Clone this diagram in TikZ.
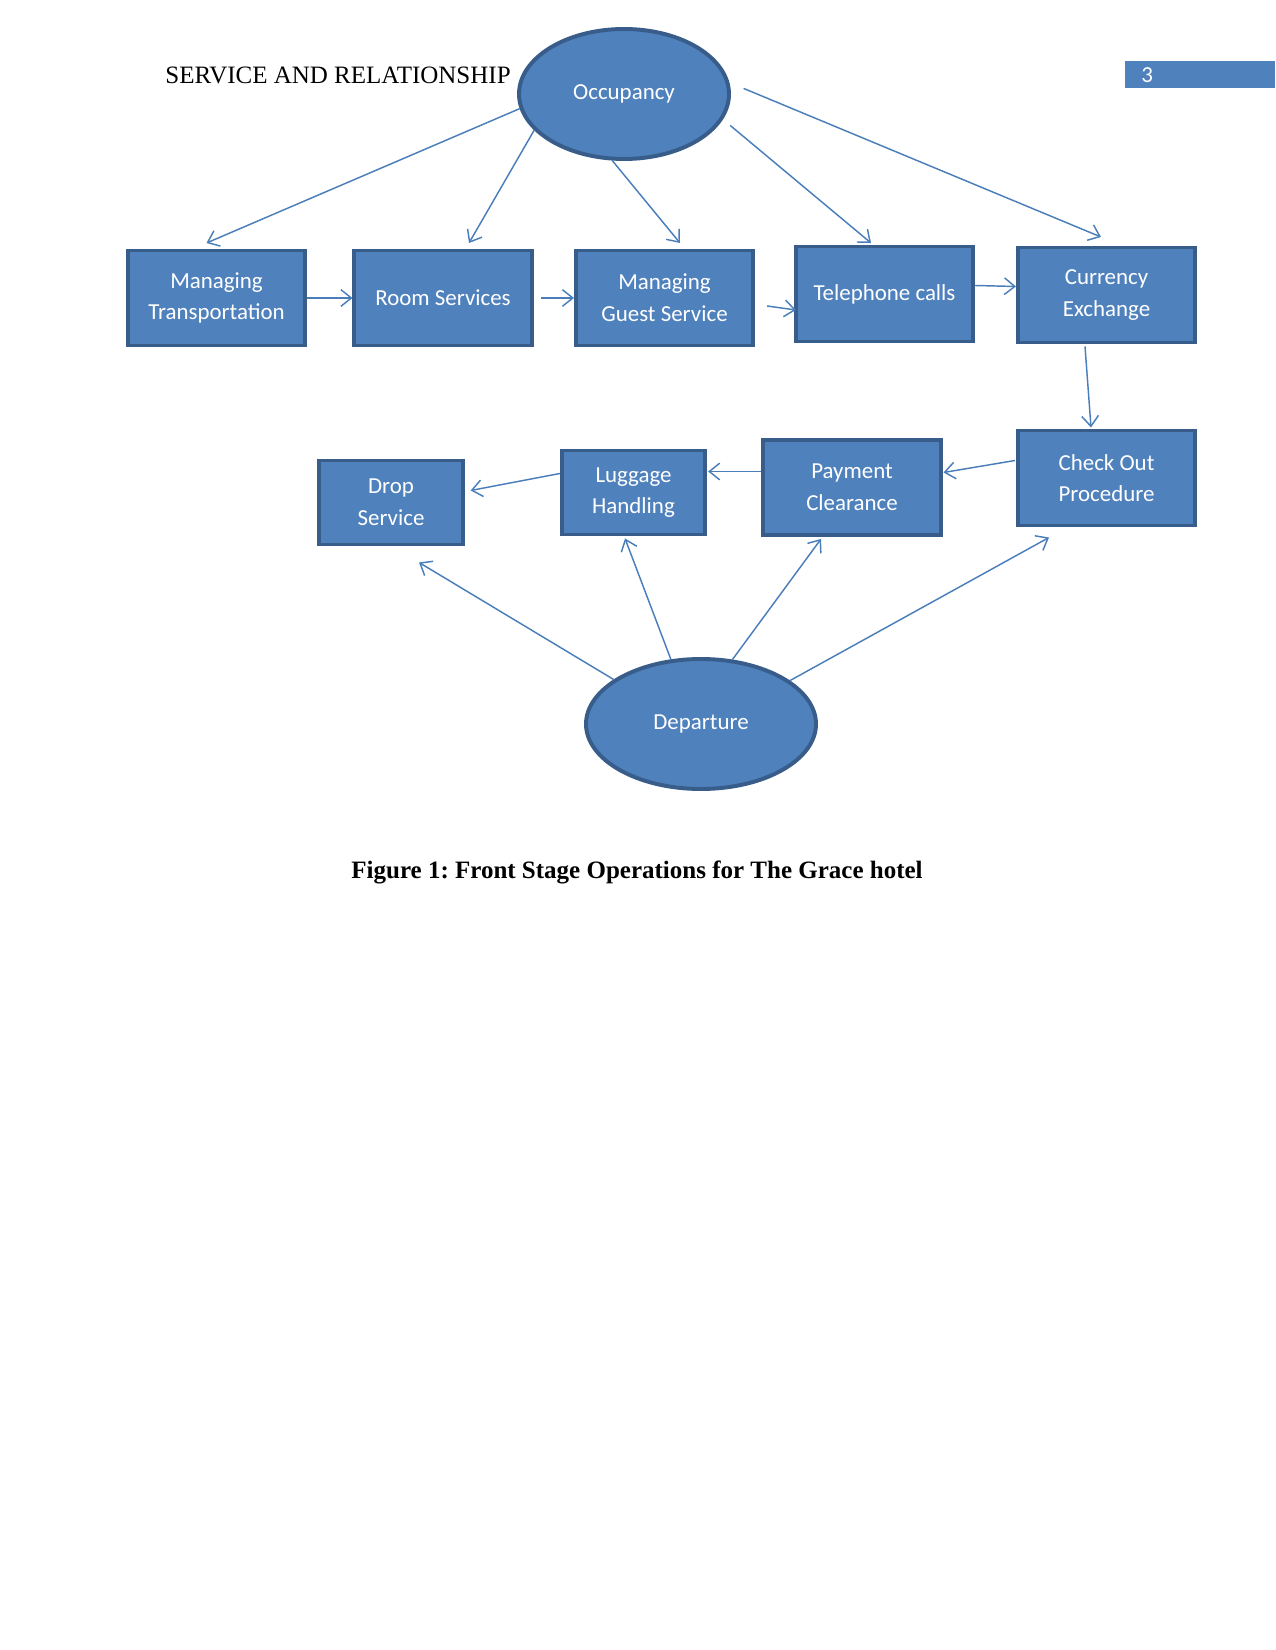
\documentclass[tikz,border=0pt]{standalone}
\usepackage{fontspec}
\setmainfont{Liberation Serif}
\newfontfamily\calibri{Carlito}
\usetikzlibrary{arrows.meta,calc,shapes.geometric}
\definecolor{boxfill}{HTML}{4F81BD}
\definecolor{boxline}{HTML}{385D8A}
\definecolor{arrowc}{HTML}{4A7EBB}
\frenchspacing
\tikzset{
 box/.style={draw=boxline, line width=1.9pt, fill=boxfill, text=white,
   font=\calibri\fontsize{11}{15.2}\selectfont, align=center, inner sep=0pt},
 bigbox/.style={box, minimum width=85pt, minimum height=45.6pt},
 smallbox/.style={box, minimum width=68.8pt, minimum height=40.3pt},
 oval/.style={ellipse, draw=boxline, line width=1.9pt, fill=boxfill, text=white,
   font=\calibri\fontsize{11}{13}\selectfont, inner sep=0pt, minimum height=62.4pt},
 conn/.style={draw=arrowc, line width=0.7pt, -{Straight Barb[length=5pt,width=8pt]}},
}
\begin{document}
\begin{tikzpicture}[x=0.48pt,y=-0.48pt]
\useasboundingbox (0,0) rectangle (1275,1650);
% header
\node[anchor=base west, inner sep=0pt, font=\fontsize{12}{14}\selectfont] (hdr) at (165,84) {SERVICE AND RELATIONSHIP};
\fill[boxfill] (1125,61) rectangle (1275,88);
\node[anchor=base west, inner sep=0pt, text=white, font=\calibri\fontsize{11}{13}\selectfont] (pg) at (1141,83) {3};
% ellipses
\node[oval, minimum width=100.8pt] (occ) at (624,94) {Occupancy};
\node[oval, minimum width=110.4pt] (dep) at (701,724) {Departure};
% boxes
\node[bigbox] (mt) at (216.5,298) {Managing\\Transportation};
\node[bigbox] (rs) at (443,298) {Room Services};
\node[bigbox] (mg) at (664.5,298) {Managing\\Guest Service};
\node[bigbox] (tc) at (884.5,294) {Telephone calls};
\node[bigbox] (ce) at (1106.5,295) {Currency\\Exchange};
\node[bigbox] (co) at (1106.5,478) {Check Out\\Procedure};
\node[bigbox] (pc) at (852,487.5) {Payment\\Clearance};
\node[smallbox] (lh) at (633.5,492.5) {Luggage\\Handling};
\node[smallbox] (ds) at (391,502.5) {Drop\\Service};
% connectors from Occupancy
\draw[conn] (occ.188) -- ($(mt.north)+(-10,-5.5)$);
\draw[conn] (occ.202) -- ($(rs.north)+(26,-5.5)$);
\draw[conn] (occ.260) -- ($(mg.north)+(15.5,-5.5)$);
\draw[conn] ($(occ.343)+(10,2)$) -- ($(tc.north)+(-13.5,-1.5)$);
\draw[conn] ($(occ.3)+(13,0)$) -- ($(ce.north)+(-5.5,-8.5)$);
% row connectors
\draw[conn] (mt.east) -- (rs.west);
\draw[conn] ($(rs.east)+(7,0)$) -- (mg.west);
\draw[conn] ($(mg.east)+(12,8)$) -- ($(tc.west)+(2,16)$);
\draw[conn] ($(tc.east)+(0,-8.5)$) -- ($(ce.west)+(0,-8.5)$);
\draw[conn] ($(ce.south)+(-21.5,2)$) -- ($(co.north)+(-15.5,-1)$);
\draw[conn] ($(co.west)+(-1,-17.5)$) -- ($(pc.east)+(1,-15)$);
\draw[conn] ($(pc.west)+(0,-16)$) -- ($(lh.east)+(1,-21)$);
\draw[conn] ($(lh.west)+(0,-19)$) -- ($(ds.east)+(6,-12)$);
% connectors from Departure
\draw[conn] (dep.153) -- ($(ds.south)+(28,16)$);
\draw[conn] (dep.115) -- ($(lh.south)+(-8.5,2)$);
\draw[conn] (dep.64) -- ($(pc.south)+(-31,2)$);
\draw[conn] (dep.26) -- ($(co.south)+(-57.5,10)$);
% caption
\node[anchor=base, inner sep=0pt, font=\bfseries\fontsize{12}{14}\selectfont] (cap) at (637,878) {Figure 1: Front Stage Operations for The Grace hotel};
\end{tikzpicture}
\end{document}
